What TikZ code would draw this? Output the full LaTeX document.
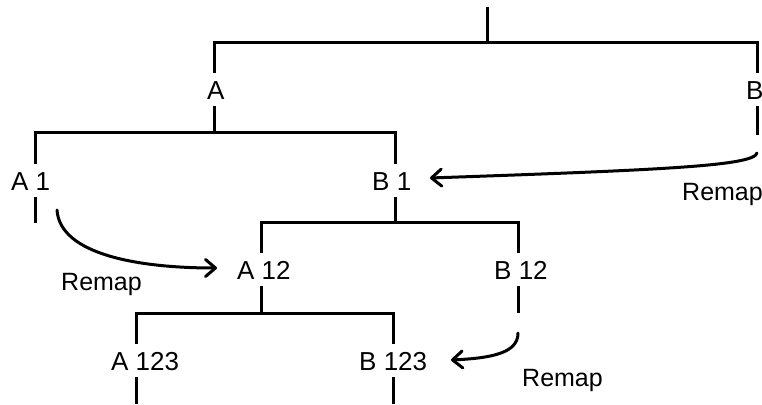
\documentclass[tikz,border=0pt]{standalone}
\usepackage{fontspec}
\setmainfont{Liberation Sans}
\usetikzlibrary{arrows.meta}
\tikzset{
  lbl/.style={anchor=west, inner xsep=0pt, inner ysep=7pt, text height=19pt, text depth=0pt, font=\fontsize{26}{30}\selectfont},
  rmp/.style={anchor=west, inner sep=0pt, text height=18pt, text depth=0pt, font=\fontsize{25}{29}\selectfont},
  tree/.style={line width=3pt, line cap=butt, line join=miter},
  remap/.style={line width=3pt, line cap=round, -{Straight Barb[length=10pt,width=17pt,line cap=round,line join=round]}}
}
\begin{document}
\begin{tikzpicture}[x=1pt,y=-1pt]
\useasboundingbox (0,0) rectangle (762,404);
% labels
\node[lbl] (A) at (207,89.5) {A};
\node[lbl] (B) at (746,89.5) {B};
\node[lbl] (A1) at (11,180.5) {A 1};
\node[lbl] (B1) at (372,180.5) {B 1};
\node[lbl] (A12) at (237,269.5) {A 12};
\node[lbl] (B12) at (494,269.5) {B 12};
\node[lbl] (A123) at (111,360.5) {A 123};
\node[lbl] (B123) at (359,360.5) {B 123};
\node[rmp] (R1) at (682,191) {Remap};
\node[rmp] (R2) at (61,281) {Remap};
\node[rmp] (R3) at (522,377) {Remap};
% tree coordinates
\coordinate (top) at (487,7);
\coordinate (j0) at (487,43);
\coordinate (a0) at (214,43);
\coordinate (b0) at (757,43);
\coordinate (b0end) at (757,135);
\coordinate (a1) at (35,132);
\coordinate (b1) at (395,132);
\coordinate (a1end) at (35,223);
\coordinate (a2) at (261,222);
\coordinate (b2) at (518,222);
\coordinate (b2end) at (518,313);
\coordinate (a3) at (136,313);
\coordinate (b3) at (393,313);
\coordinate (a3end) at (136,404);
\coordinate (b3end) at (393,404);
% tree lines
\draw[tree] (top) -- (j0);
\draw[tree] (A.north -| a0) -- (a0) -- (b0) -- (B.north -| b0);
\draw[tree] (A.south -| a0) -- (a0 |- a1);
\draw[tree] (A1.north -| a1) -- (a1) -- (b1) -- (B1.north -| b1);
\draw[tree] (B.south -| b0) -- (b0end);
\draw[tree] (A1.south -| a1) -- (a1end);
\draw[tree] (B1.south -| b1) -- (b1 |- a2);
\draw[tree] (A12.north -| a2) -- (a2) -- (b2) -- (B12.north -| b2);
\draw[tree] (A12.south -| a2) -- (a2 |- a3);
\draw[tree] (B12.south -| b2) -- (b2end);
\draw[tree] (A123.north -| a3) -- (a3) -- (b3) -- (B123.north -| b3);
\draw[tree] (A123.south -| a3) -- (a3end);
\draw[tree] (B123.south -| b3) -- (b3end);
% remap arrows
\coordinate (s1) at (757,153);
\coordinate (e1) at (430,178);
\coordinate (s2) at (57,210);
\coordinate (e2) at (217,268);
\coordinate (s3) at (518,333);
\coordinate (e3) at (451,360);
\draw[remap] (s1) .. controls (754,166) and (660,170) .. (e1);
\draw[remap] (s2) .. controls (60,255) and (140,268) .. (e2);
\draw[remap] (s3) .. controls (518,352) and (495,358) .. (e3);
\end{tikzpicture}
\end{document}
